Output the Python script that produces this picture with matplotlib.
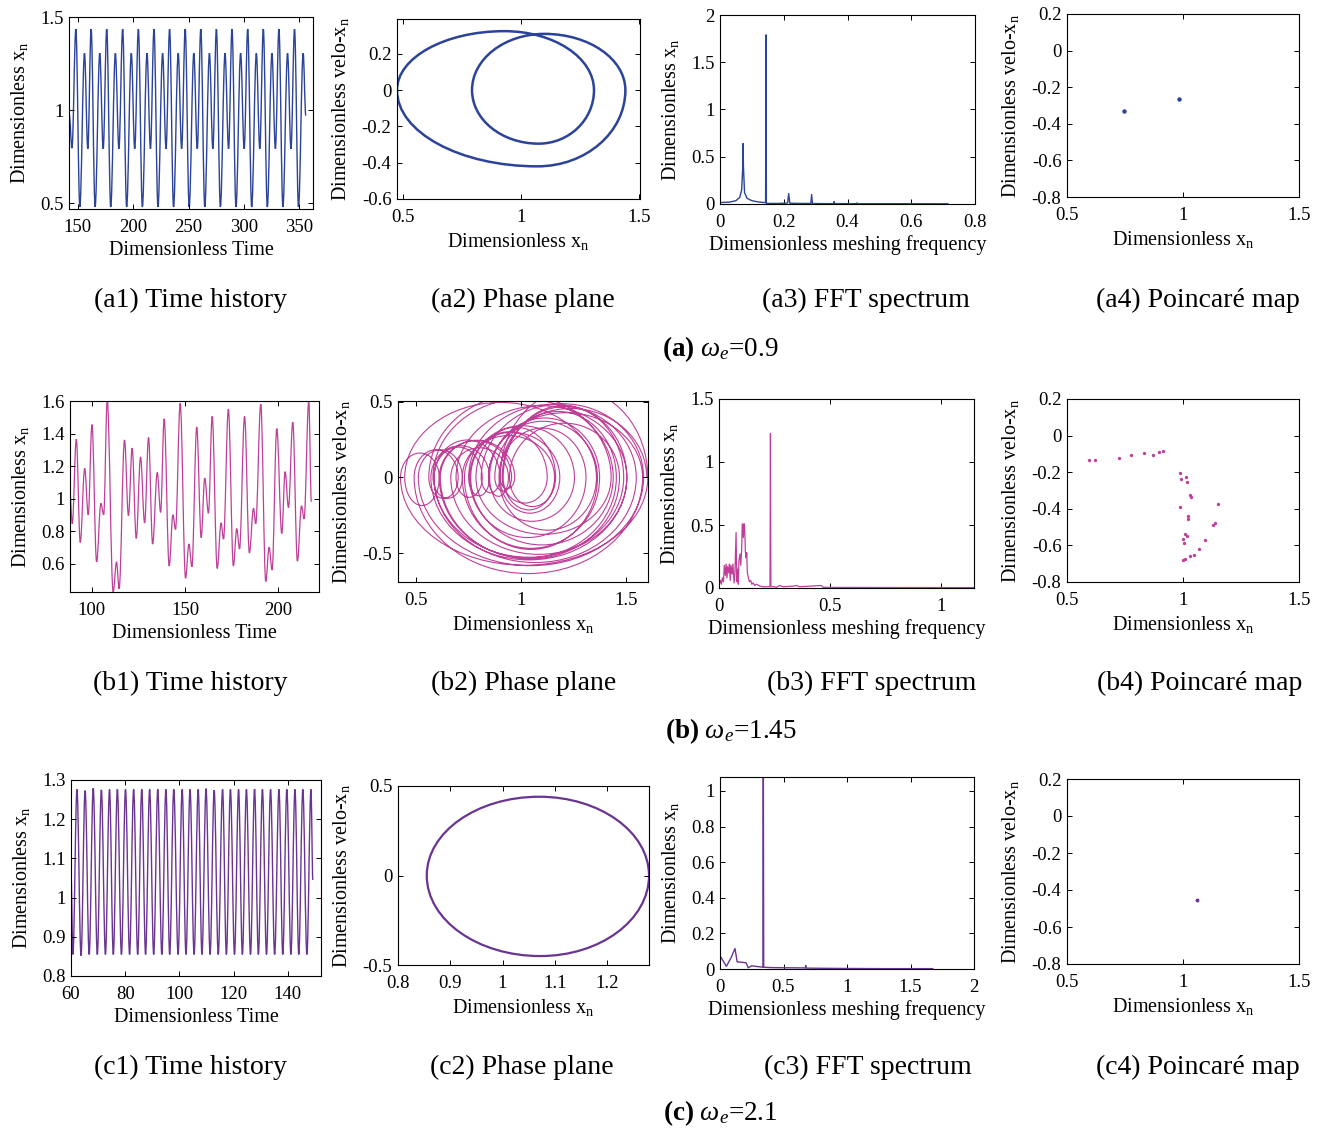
import numpy as np
import matplotlib
matplotlib.use("Agg")
import matplotlib.pyplot as plt
from matplotlib.path import Path
from matplotlib.patches import PathPatch

plt.rcParams.update({
    "font.family": "Liberation Serif",
    "mathtext.fontset": "custom",
    "mathtext.rm": "Liberation Serif",
    "mathtext.it": "Liberation Serif:italic",
    "mathtext.bf": "Liberation Serif:bold",
    "axes.unicode_minus": False,
})

W, H = 1324, 1131

COL_A = "#2b4398"
COL_B = "#bf3f98"
COL_C = "#6a3493"

# ---- (a) omega_e = 0.9 : extrema of the time history ----
a1_t = [142.2, 144.7, 148.2, 151.8, 156.0, 159.0, 162.0, 165.6, 169.8, 172.9,
        176.1, 179.7, 183.9, 187.1, 190.5, 194.1, 198.3, 201.4, 204.7, 208.3,
        212.5, 215.6, 218.8, 222.4, 226.6, 229.7, 232.9, 236.5, 240.7, 243.8,
        247.0, 250.6, 254.8, 257.9, 261.1, 264.7, 268.9, 272.0, 275.2, 278.8,
        283.0, 286.2, 289.3, 292.9, 297.1, 300.3, 303.5, 307.1, 311.3, 314.4,
        317.6, 321.2, 325.4, 328.5, 331.7, 335.3, 339.5, 342.6, 345.8, 349.4,
        353.6, 356.0]
a1_x = [0.975, 0.795, 1.435, 0.479, 1.305, 0.792, 1.435, 0.479, 1.305, 0.792,
        1.435, 0.479, 1.305, 0.792, 1.435, 0.479, 1.305, 0.792, 1.435, 0.479,
        1.305, 0.792, 1.435, 0.479, 1.305, 0.792, 1.435, 0.479, 1.305, 0.792,
        1.435, 0.479, 1.305, 0.792, 1.435, 0.479, 1.305, 0.792, 1.435, 0.479,
        1.305, 0.792, 1.435, 0.479, 1.305, 0.792, 1.435, 0.479, 1.305, 0.792,
        1.435, 0.479, 1.305, 0.792, 1.435, 0.479, 1.305, 0.792, 1.435, 0.479,
        1.305, 0.97]
# phase plane: turning points (v=0) and the velocity extreme of each half cycle
a2_turn = [0.475, 1.31, 0.793, 1.443, 0.475]
a2_ext_x = [0.93, 1.075, 1.10, 1.07]
a2_ext_v = [0.325, -0.295, 0.31, -0.42]
a3_f = [0.0, 0.03, 0.05, 0.062, 0.068, 0.0715, 0.0725, 0.0735, 0.077, 0.085,
        0.10, 0.12, 0.143, 0.1445, 0.1455, 0.147, 0.18, 0.212, 0.2155, 0.219,
        0.25, 0.285, 0.2875, 0.29, 0.33, 0.356, 0.358, 0.36, 0.40, 0.428,
        0.43, 0.432, 0.55, 0.715]
a3_amp = [0.015, 0.02, 0.035, 0.07, 0.15, 0.4, 0.64, 0.4, 0.12, 0.06,
          0.035, 0.022, 0.014, 1.79, 0.01, 0.006, 0.006, 0.01, 0.11, 0.008,
          0.006, 0.006, 0.10, 0.005, 0.004, 0.004, 0.025, 0.004, 0.004, 0.003,
          0.012, 0.003, 0.003, 0.002]
a4_x = [0.744, 0.981]
a4_v = [-0.328, -0.267]

# ---- (b) omega_e = 1.45 ----
b1_t = [88.2, 89.4, 91.6, 93.7, 96.1, 98.0, 100.0, 102.5, 104.8, 106.3,
        108.2, 111.4, 113.2, 114.6, 117.5, 119.6, 121.6, 123.8, 126.1, 128.3,
        130.4, 132.6, 135.1, 136.9, 138.8, 141.5, 143.5, 144.9, 147.4, 150.3,
        152.1, 153.7, 156.3, 158.7, 160.6, 162.6, 164.6, 167.3, 169.4, 170.7,
        173.3, 176.0, 177.8, 179.3, 182.0, 184.6, 186.8, 188.0, 190.7, 193.4,
        195.2, 196.8, 199.3, 202.0, 203.8, 205.6, 207.9, 210.4, 212.6, 214.0,
        216.5, 217.9]
b1_x = [1.03, 0.845, 1.365, 0.73, 1.185, 0.90, 1.455, 0.61, 0.97, 0.90,
        1.605, 0.425, 0.61, 0.445, 1.36, 0.895, 1.31, 0.755, 1.255, 0.85,
        1.375, 0.72, 1.16, 0.915, 1.49, 0.585, 0.90, 0.81, 1.585, 0.51,
        0.72, 0.58, 1.44, 0.76, 1.125, 0.91, 1.505, 0.57, 0.85, 0.75,
        1.55, 0.585, 0.815, 0.69, 1.505, 0.665, 0.94, 0.845, 1.58, 0.49,
        0.70, 0.56, 1.43, 0.785, 1.165, 0.945, 1.47, 0.615, 0.955, 0.875,
        1.60, 0.98]
b3_f = [0.000, 0.006, 0.011, 0.015, 0.020, 0.024, 0.029, 0.032, 0.036, 0.039,
        0.044, 0.047, 0.051, 0.054, 0.059, 0.063, 0.068, 0.072, 0.077, 0.080,
        0.084, 0.087, 0.090, 0.095, 0.098, 0.102, 0.105, 0.110, 0.113, 0.116,
        0.119, 0.122, 0.125, 0.128, 0.133, 0.137, 0.143, 0.148, 0.154, 0.161,
        0.169, 0.184, 0.199, 0.221, 0.230, 0.232, 0.234, 0.247, 0.259, 0.274,
        0.289, 0.334, 0.349, 0.364, 0.461, 0.470, 0.70, 1.15]
b3_amp = [0.02, 0.06, 0.03, 0.08, 0.05, 0.18, 0.10, 0.19, 0.08, 0.17,
          0.12, 0.19, 0.06, 0.18, 0.11, 0.19, 0.04, 0.12, 0.44, 0.05,
          0.15, 0.03, 0.22, 0.27, 0.18, 0.30, 0.51, 0.40, 0.51, 0.47,
          0.29, 0.24, 0.28, 0.12, 0.08, 0.05, 0.06, 0.03, 0.04, 0.02,
          0.03, 0.015, 0.01, 0.01, 0.01, 1.225, 0.01, 0.01, 0.005, 0.02,
          0.01, 0.015, 0.02, 0.01, 0.02, 0.005, 0.004, 0.003]
b4_x = [0.596, 0.622, 0.725, 0.775, 0.830, 0.871, 0.897, 0.915, 0.986, 0.990,
        1.013, 1.019, 1.032, 1.033, 0.989, 1.020, 1.020, 1.009, 1.016, 1.000,
        1.004, 0.999, 1.010, 1.029, 1.046, 1.070, 1.096, 1.130, 1.136, 1.153]
b4_v = [-0.135, -0.135, -0.122, -0.107, -0.096, -0.105, -0.089, -0.085, -0.202, -0.238,
        -0.227, -0.253, -0.327, -0.336, -0.389, -0.438, -0.455, -0.536, -0.549, -0.565,
        -0.587, -0.682, -0.675, -0.658, -0.653, -0.622, -0.573, -0.491, -0.475, -0.375]

# ---- (c) omega_e = 2.1 ----
c1_t = [60.0, 60.7, 62.2, 63.7, 65.2, 66.7, 68.2, 69.7, 71.2, 72.7,
        74.2, 75.6, 77.1, 78.6, 80.1, 81.6, 83.1, 84.6, 86.1, 87.5,
        89.0, 90.5, 92.0, 93.5, 95.0, 96.4, 97.9, 99.5, 101.0, 102.4,
        103.9, 105.4, 106.9, 108.3, 109.8, 111.3, 112.8, 114.3, 115.9, 117.3,
        118.8, 120.3, 121.8, 123.2, 124.7, 126.2, 127.7, 129.1, 130.6, 132.1,
        133.6, 135.1, 136.7, 138.1, 139.6, 141.1, 142.6, 144.0, 145.5, 147.0,
        148.5, 149.2]
c1_x = [1.064, 0.855, 1.276, 0.852, 1.273, 0.855, 1.279, 0.855, 1.275, 0.855,
        1.276, 0.855, 1.276, 0.855, 1.276, 0.855, 1.276, 0.855, 1.276, 0.855,
        1.276, 0.855, 1.276, 0.855, 1.276, 0.855, 1.276, 0.855, 1.276, 0.855,
        1.276, 0.855, 1.276, 0.855, 1.278, 0.855, 1.274, 0.855, 1.276, 0.855,
        1.276, 0.855, 1.276, 0.855, 1.276, 0.855, 1.277, 0.855, 1.276, 0.855,
        1.276, 0.855, 1.276, 0.855, 1.276, 0.855, 1.276, 0.855, 1.276, 0.855,
        1.276, 1.045]
c2_turn = [0.855, 1.28, 0.855]
c2_ext_x = [1.07, 1.072]
c2_ext_v = [0.44, -0.45]
c3_f = [0.0, 0.025, 0.05, 0.085, 0.118, 0.135, 0.17, 0.205, 0.222, 0.25,
        0.29, 0.338, 0.341, 0.344, 0.40, 0.5, 0.672, 0.675, 0.678, 0.8,
        1.0, 1.3, 1.675]
c3_amp = [0.075, 0.045, 0.015, 0.06, 0.115, 0.04, 0.038, 0.035, 0.007, 0.018,
          0.014, 0.01, 1.25, 0.01, 0.008, 0.007, 0.006, 0.02, 0.005, 0.004,
          0.003, 0.002, 0.002]
c4_x = [1.062]
c4_v = [-0.452]

XLAB_T = "Dimensionless Time"
XLAB_X = "Dimensionless x$_\\mathregular{n}$"
XLAB_F = "Dimensionless meshing frequency"
YLAB_X = "Dimensionless x$_\\mathregular{n}$"
YLAB_V = "Dimensionless velo-x$_\\mathregular{n}$"


def wave_path(t, x):
    """Smooth curve through successive extrema (horizontal tangent at each)."""
    k = 0.363
    verts = [(t[0], x[0])]
    codes = [Path.MOVETO]
    for t0, x0, t1, x1 in zip(t[:-1], x[:-1], t[1:], x[1:]):
        dt = t1 - t0
        verts += [(t0 + k * dt, x0), (t1 - k * dt, x1), (t1, x1)]
        codes += [Path.CURVE4] * 3
    return Path(verts, codes)


def phase_path(x_turn, x_ext, v_ext):
    """Half-cycle arcs between turning points, peaking at (x_ext, v_ext)."""
    k = 0.5523
    verts = [(x_turn[0], 0.0)]
    codes = [Path.MOVETO]
    for x0, xe, ve, x1 in zip(x_turn[:-1], x_ext, v_ext, x_turn[1:]):
        verts += [(x0, k * ve), (xe - k * (xe - x0), ve), (xe, ve),
                  (xe + k * (x1 - xe), ve), (x1, k * ve), (x1, 0.0)]
        codes += [Path.CURVE4] * 6
    return Path(verts, codes)


def new_ax(box):
    l, t, r, b = box
    ax = fig.add_axes([l / W, 1 - b / H, (r - l) / W, (b - t) / H])
    ax.tick_params(direction="in", top=True, right=True, length=3.5,
                   width=0.7, labelsize=13.5)
    ax.tick_params(axis="x", pad=7)
    ax.tick_params(axis="y", pad=4)
    for s in ax.spines.values():
        s.set_linewidth(0.8)
    return ax


def style(ax, xlim, ylim, xticks, yticks, xlabel, ylabel):
    ax.set_xlim(*xlim)
    ax.set_ylim(*ylim)
    ax.set_xticks(xticks)
    ax.set_yticks(yticks)
    ax.set_xticklabels(["%g" % v for v in xticks])
    ax.set_yticklabels(["%g" % v for v in yticks])
    ax.set_xlabel(xlabel, fontsize=14.5, labelpad=3.5)
    ax.set_ylabel(ylabel, fontsize=14.5, labelpad=7.5)


fig = plt.figure(figsize=(W / 100, H / 100), dpi=100)

# row (a)
ax = new_ax((69, 17, 313, 209))
ax.add_patch(PathPatch(wave_path(a1_t, a1_x), fill=False, ec=COL_A, lw=1.0))
style(ax, (142.0, 362.5), (0.468, 1.5), [150, 200, 250, 300, 350], [0.5, 1, 1.5], XLAB_T, YLAB_X)

ax = new_ax((397, 19, 640, 199))
ax.add_patch(PathPatch(phase_path(a2_turn, a2_ext_x, a2_ext_v), fill=False, ec=COL_A, lw=1.8))
style(ax, (0.475, 1.505), (-0.6, 0.392), [0.5, 1, 1.5], [-0.6, -0.4, -0.2, 0, 0.2], XLAB_X, YLAB_V)

ax = new_ax((720, 15, 975, 204))
ax.plot(a3_f, a3_amp, color=COL_A, lw=1.0)
style(ax, (0, 0.8), (0, 2), [0, 0.2, 0.4, 0.6, 0.8], [0, 0.5, 1, 1.5, 2], XLAB_F, YLAB_X)

ax = new_ax((1067, 14, 1299, 197))
ax.plot(a4_x, a4_v, "o", color=COL_A, ms=3.2, mew=0)
style(ax, (0.5, 1.5), (-0.8, 0.2), [0.5, 1, 1.5], [-0.8, -0.6, -0.4, -0.2, 0, 0.2], XLAB_X, YLAB_V)

# row (b)
ax = new_ax((70, 401, 319, 592))
ax.add_patch(PathPatch(wave_path(b1_t, b1_x), fill=False, ec=COL_B, lw=0.9))
style(ax, (88.2, 222.0), (0.425, 1.6), [100, 150, 200], [0.6, 0.8, 1, 1.2, 1.4, 1.6], XLAB_T, YLAB_X)

# phase plane built from the same half cycles (velocity ~ pi/2 * dx/dt)
bt = np.array(b1_t[1:-1])
bx = np.array(b1_x[1:-1])
b2_ext_x = (bx[:-1] + bx[1:]) / 2
b2_ext_v = np.pi / 2 * np.diff(bx) / np.diff(bt)
ax = new_ax((398, 401, 648, 582))
ax.add_patch(PathPatch(phase_path(bx, b2_ext_x, b2_ext_v), fill=False, ec=COL_B, lw=0.8))
style(ax, (0.413, 1.606), (-0.69, 0.505), [0.5, 1, 1.5], [-0.5, 0, 0.5], XLAB_X, YLAB_V)

ax = new_ax((719, 399, 974, 588))
ax.plot(b3_f, b3_amp, color=COL_B, lw=0.9)
style(ax, (0, 1.15), (0, 1.5), [0, 0.5, 1], [0, 0.5, 1, 1.5], XLAB_F, YLAB_X)

ax = new_ax((1067, 399, 1299, 582))
ax.plot(b4_x, b4_v, "o", color=COL_B, ms=2.4, mew=0)
style(ax, (0.5, 1.5), (-0.8, 0.2), [0.5, 1, 1.5], [-0.8, -0.6, -0.4, -0.2, 0, 0.2], XLAB_X, YLAB_V)

# row (c)
ax = new_ax((71, 780, 321, 976))
ax.add_patch(PathPatch(wave_path(c1_t, c1_x), fill=False, ec=COL_C, lw=1.0))
style(ax, (60, 152.2), (0.8, 1.3), [60, 80, 100, 120, 140], [0.8, 0.9, 1, 1.1, 1.2, 1.3], XLAB_T, YLAB_X)

ax = new_ax((398, 786, 649, 965))
ax.add_patch(PathPatch(phase_path(c2_turn, c2_ext_x, c2_ext_v), fill=False, ec=COL_C, lw=1.6))
style(ax, (0.8, 1.28), (-0.5, 0.5), [0.8, 0.9, 1, 1.1, 1.2], [-0.5, 0, 0.5], XLAB_X, YLAB_V)

ax = new_ax((720, 777, 974, 969))
ax.plot(c3_f, c3_amp, color=COL_C, lw=1.0)
style(ax, (0, 2), (0, 1.078), [0, 0.5, 1, 1.5, 2], [0, 0.2, 0.4, 0.6, 0.8, 1], XLAB_F, YLAB_X)

ax = new_ax((1067, 779, 1299, 964))
ax.plot(c4_x, c4_v, "o", color=COL_C, ms=2.8, mew=0)
style(ax, (0.5, 1.5), (-0.8, 0.2), [0.5, 1, 1.5], [-0.8, -0.6, -0.4, -0.2, 0, 0.2], XLAB_X, YLAB_V)

# captions
sub_caps = [
    ("(a1) Time history", 190, 300), ("(a2) Phase plane", 523, 300),
    ("(a3) FFT spectrum", 866, 300), ("(a4) Poincaré map", 1198, 300),
    ("(b1) Time history", 190, 683), ("(b2) Phase plane", 524, 683),
    ("(b3) FFT spectrum", 872, 683), ("(b4) Poincaré map", 1200, 683),
    ("(c1) Time history", 190, 1067), ("(c2) Phase plane", 522, 1067),
    ("(c3) FFT spectrum", 868, 1067), ("(c4) Poincaré map", 1198, 1067),
]
for s, x, y in sub_caps:
    fig.text(x / W, 1 - y / H, s, ha="center", va="center", fontsize=20)

row_caps = [
    (r"$\mathbf{(a)}$ $\omega_e$=0.9", 720, 349),
    (r"$\mathbf{(b)}$ $\omega_e$=1.45", 731, 731),
    (r"$\mathbf{(c)}$ $\omega_e$=2.1", 720, 1113),
]
for s, x, y in row_caps:
    fig.text(x / W, 1 - y / H, s, ha="center", va="center", fontsize=19.5)

fig.savefig("out.png", dpi=100)
